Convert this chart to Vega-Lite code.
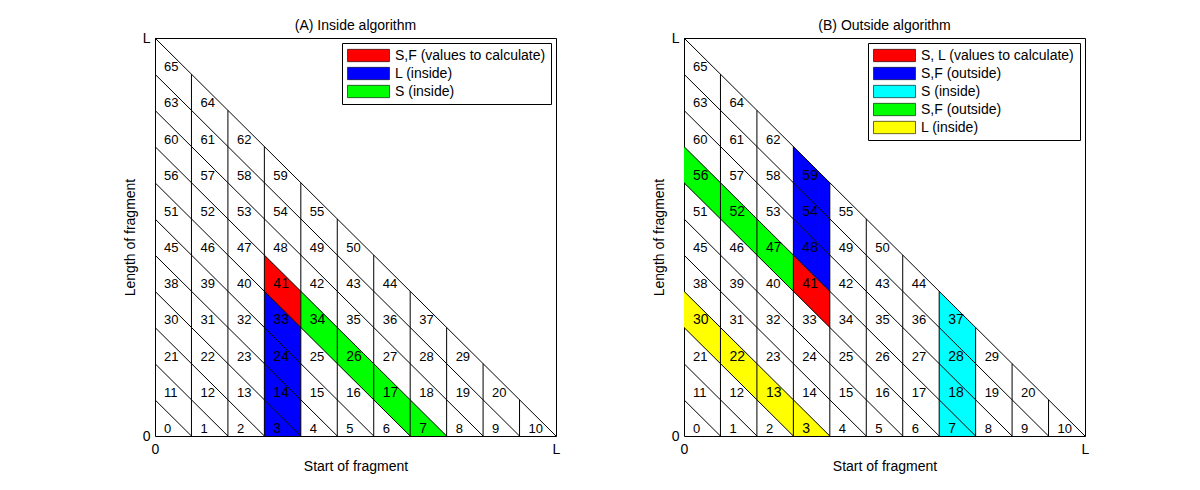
{
  "$schema": "https://vega.github.io/schema/vega-lite/v6.json",
  "background": "white",
  "padding": {"left": 122, "top": 18, "right": 5, "bottom": 5},
  "spacing": 90,
  "resolve": {"scale": {"color": "independent", "x": "independent", "y": "independent"}, "legend": {"color": "independent"}},
  "datasets": {
    "cells": [
      {"id":0,"k":0,"r":0},{"id":1,"k":1,"r":0},{"id":2,"k":2,"r":0},{"id":3,"k":3,"r":0},{"id":4,"k":4,"r":0},{"id":5,"k":5,"r":0},{"id":6,"k":6,"r":0},{"id":7,"k":7,"r":0},{"id":8,"k":8,"r":0},{"id":9,"k":9,"r":0},{"id":10,"k":10,"r":0},
      {"id":11,"k":0,"r":1},{"id":12,"k":1,"r":1},{"id":13,"k":2,"r":1},{"id":14,"k":3,"r":1},{"id":15,"k":4,"r":1},{"id":16,"k":5,"r":1},{"id":17,"k":6,"r":1},{"id":18,"k":7,"r":1},{"id":19,"k":8,"r":1},{"id":20,"k":9,"r":1},
      {"id":21,"k":0,"r":2},{"id":22,"k":1,"r":2},{"id":23,"k":2,"r":2},{"id":24,"k":3,"r":2},{"id":25,"k":4,"r":2},{"id":26,"k":5,"r":2},{"id":27,"k":6,"r":2},{"id":28,"k":7,"r":2},{"id":29,"k":8,"r":2},
      {"id":30,"k":0,"r":3},{"id":31,"k":1,"r":3},{"id":32,"k":2,"r":3},{"id":33,"k":3,"r":3},{"id":34,"k":4,"r":3},{"id":35,"k":5,"r":3},{"id":36,"k":6,"r":3},{"id":37,"k":7,"r":3},
      {"id":38,"k":0,"r":4},{"id":39,"k":1,"r":4},{"id":40,"k":2,"r":4},{"id":41,"k":3,"r":4},{"id":42,"k":4,"r":4},{"id":43,"k":5,"r":4},{"id":44,"k":6,"r":4},
      {"id":45,"k":0,"r":5},{"id":46,"k":1,"r":5},{"id":47,"k":2,"r":5},{"id":48,"k":3,"r":5},{"id":49,"k":4,"r":5},{"id":50,"k":5,"r":5},
      {"id":51,"k":0,"r":6},{"id":52,"k":1,"r":6},{"id":53,"k":2,"r":6},{"id":54,"k":3,"r":6},{"id":55,"k":4,"r":6},
      {"id":56,"k":0,"r":7},{"id":57,"k":1,"r":7},{"id":58,"k":2,"r":7},{"id":59,"k":3,"r":7},
      {"id":60,"k":0,"r":8},{"id":61,"k":1,"r":8},{"id":62,"k":2,"r":8},
      {"id":63,"k":0,"r":9},{"id":64,"k":1,"r":9},
      {"id":65,"k":0,"r":10}
    ],
    "grid": [
      {"x":1,"y":0,"x2":1,"y2":10},{"x":2,"y":0,"x2":2,"y2":9},{"x":3,"y":0,"x2":3,"y2":8},{"x":4,"y":0,"x2":4,"y2":7},{"x":5,"y":0,"x2":5,"y2":6},
      {"x":6,"y":0,"x2":6,"y2":5},{"x":7,"y":0,"x2":7,"y2":4},{"x":8,"y":0,"x2":8,"y2":3},{"x":9,"y":0,"x2":9,"y2":2},{"x":10,"y":0,"x2":10,"y2":1},
      {"x":0,"y":1,"x2":1,"y2":0},{"x":0,"y":2,"x2":2,"y2":0},{"x":0,"y":3,"x2":3,"y2":0},{"x":0,"y":4,"x2":4,"y2":0},{"x":0,"y":5,"x2":5,"y2":0},{"x":0,"y":6,"x2":6,"y2":0},
      {"x":0,"y":7,"x2":7,"y2":0},{"x":0,"y":8,"x2":8,"y2":0},{"x":0,"y":9,"x2":9,"y2":0},{"x":0,"y":10,"x2":10,"y2":0},{"x":0,"y":11,"x2":11,"y2":0}
    ],
    "polyA": [
      {"id":41,"cat":"S,F (values to calculate)","x":3,"lo":4,"hi":5},{"id":41,"cat":"S,F (values to calculate)","x":4,"lo":3,"hi":4},
      {"id":3,"cat":"L (inside)","x":3,"lo":0,"hi":1},{"id":3,"cat":"L (inside)","x":4,"lo":0,"hi":0},
      {"id":14,"cat":"L (inside)","x":3,"lo":1,"hi":2},{"id":14,"cat":"L (inside)","x":4,"lo":0,"hi":1},
      {"id":24,"cat":"L (inside)","x":3,"lo":2,"hi":3},{"id":24,"cat":"L (inside)","x":4,"lo":1,"hi":2},
      {"id":33,"cat":"L (inside)","x":3,"lo":3,"hi":4},{"id":33,"cat":"L (inside)","x":4,"lo":2,"hi":3},
      {"id":34,"cat":"S (inside)","x":4,"lo":3,"hi":4},{"id":34,"cat":"S (inside)","x":5,"lo":2,"hi":3},
      {"id":26,"cat":"S (inside)","x":5,"lo":2,"hi":3},{"id":26,"cat":"S (inside)","x":6,"lo":1,"hi":2},
      {"id":17,"cat":"S (inside)","x":6,"lo":1,"hi":2},{"id":17,"cat":"S (inside)","x":7,"lo":0,"hi":1},
      {"id":7,"cat":"S (inside)","x":7,"lo":0,"hi":1},{"id":7,"cat":"S (inside)","x":8,"lo":0,"hi":0}
    ],
    "polyB": [
      {"id":41,"cat":"S, L (values to calculate)","x":3,"lo":4,"hi":5},{"id":41,"cat":"S, L (values to calculate)","x":4,"lo":3,"hi":4},
      {"id":48,"cat":"S,F (outside) ","x":3,"lo":5,"hi":6},{"id":48,"cat":"S,F (outside) ","x":4,"lo":4,"hi":5},
      {"id":54,"cat":"S,F (outside) ","x":3,"lo":6,"hi":7},{"id":54,"cat":"S,F (outside) ","x":4,"lo":5,"hi":6},
      {"id":59,"cat":"S,F (outside) ","x":3,"lo":7,"hi":8},{"id":59,"cat":"S,F (outside) ","x":4,"lo":6,"hi":7},
      {"id":37,"cat":"S (inside)","x":7,"lo":3,"hi":4},{"id":37,"cat":"S (inside)","x":8,"lo":2,"hi":3},
      {"id":28,"cat":"S (inside)","x":7,"lo":2,"hi":3},{"id":28,"cat":"S (inside)","x":8,"lo":1,"hi":2},
      {"id":18,"cat":"S (inside)","x":7,"lo":1,"hi":2},{"id":18,"cat":"S (inside)","x":8,"lo":0,"hi":1},
      {"id":7,"cat":"S (inside)","x":7,"lo":0,"hi":1},{"id":7,"cat":"S (inside)","x":8,"lo":0,"hi":0},
      {"id":56,"cat":"S,F (outside)","x":0,"lo":7,"hi":8},{"id":56,"cat":"S,F (outside)","x":1,"lo":6,"hi":7},
      {"id":52,"cat":"S,F (outside)","x":1,"lo":6,"hi":7},{"id":52,"cat":"S,F (outside)","x":2,"lo":5,"hi":6},
      {"id":47,"cat":"S,F (outside)","x":2,"lo":5,"hi":6},{"id":47,"cat":"S,F (outside)","x":3,"lo":4,"hi":5},
      {"id":30,"cat":"L (inside)","x":0,"lo":3,"hi":4},{"id":30,"cat":"L (inside)","x":1,"lo":2,"hi":3},
      {"id":22,"cat":"L (inside)","x":1,"lo":2,"hi":3},{"id":22,"cat":"L (inside)","x":2,"lo":1,"hi":2},
      {"id":13,"cat":"L (inside)","x":2,"lo":1,"hi":2},{"id":13,"cat":"L (inside)","x":3,"lo":0,"hi":1},
      {"id":3,"cat":"L (inside)","x":3,"lo":0,"hi":1},{"id":3,"cat":"L (inside)","x":4,"lo":0,"hi":0}
    ]
  },
  "hconcat": [
    {
      "width": 401,
      "height": 398,
      "title": {"text": "(A) Inside algorithm"},
      "layer": [
        {
          "data": {"name": "polyA"},
          "mark": {"type": "area", "opacity": 1, "interpolate": "linear"},
          "encoding": {
            "x": {"field": "x", "type": "quantitative", "title": "Start of fragment", "scale": {"domain": [0, 11], "nice": false, "zero": false}, "axis": {"values": [0, 11], "labelExpr": "datum.value == 0 ? '0' : 'L'"}},
            "y": {"field": "hi", "type": "quantitative", "title": "Length of fragment", "stack": null, "scale": {"domain": [0, 11], "nice": false, "zero": false}, "axis": {"values": [0, 11], "labelExpr": "datum.value == 0 ? '0' : 'L'"}},
            "y2": {"field": "lo"},
            "detail": {"field": "id", "type": "nominal"},
            "color": {"field": "cat", "type": "nominal", "scale": {"domain": ["S,F (values to calculate)", "L (inside)", "S (inside)"], "range": ["#ff0000", "#0000ff", "#00ff00"]}}
          }
        },
        {
          "data": {"name": "grid"},
          "mark": {"type": "rule", "color": "black", "strokeWidth": 1},
          "encoding": {
            "x": {"field": "x", "type": "quantitative", "title": "Start of fragment"},
            "y": {"field": "y", "type": "quantitative", "title": "Length of fragment"},
            "x2": {"field": "x2"},
            "y2": {"field": "y2"}
          }
        },
        {
          "data": {"name": "cells"},
          "mark": {"type": "text", "align": "left", "baseline": "middle", "dx": 9, "dy": -7, "color": "black"},
          "encoding": {
            "x": {"field": "k", "type": "quantitative", "title": "Start of fragment"},
            "y": {"field": "r", "type": "quantitative", "title": "Length of fragment"},
            "text": {"field": "id", "type": "nominal"},
            "size": {"condition": {"test": "indexof([41,3,14,24,33,34,26,17,7], datum.id) >= 0", "value": 14}, "value": 13}
          }
        }
      ]
    },
    {
      "width": 401,
      "height": 398,
      "title": {"text": "(B) Outside algorithm"},
      "layer": [
        {
          "data": {"name": "polyB"},
          "mark": {"type": "area", "opacity": 1, "interpolate": "linear"},
          "encoding": {
            "x": {"field": "x", "type": "quantitative", "title": "Start of fragment", "scale": {"domain": [0, 11], "nice": false, "zero": false}, "axis": {"values": [0, 11], "labelExpr": "datum.value == 0 ? '0' : 'L'"}},
            "y": {"field": "hi", "type": "quantitative", "title": "Length of fragment", "stack": null, "scale": {"domain": [0, 11], "nice": false, "zero": false}, "axis": {"values": [0, 11], "labelExpr": "datum.value == 0 ? '0' : 'L'"}},
            "y2": {"field": "lo"},
            "detail": {"field": "id", "type": "nominal"},
            "color": {"field": "cat", "type": "nominal", "scale": {"domain": ["S, L (values to calculate)", "S,F (outside) ", "S (inside)", "S,F (outside)", "L (inside)"], "range": ["#ff0000", "#0000ff", "#00ffff", "#00ff00", "#ffff00"]}}
          }
        },
        {
          "data": {"name": "grid"},
          "mark": {"type": "rule", "color": "black", "strokeWidth": 1},
          "encoding": {
            "x": {"field": "x", "type": "quantitative", "title": "Start of fragment"},
            "y": {"field": "y", "type": "quantitative", "title": "Length of fragment"},
            "x2": {"field": "x2"},
            "y2": {"field": "y2"}
          }
        },
        {
          "data": {"name": "cells"},
          "mark": {"type": "text", "align": "left", "baseline": "middle", "dx": 9, "dy": -7, "color": "black"},
          "encoding": {
            "x": {"field": "k", "type": "quantitative", "title": "Start of fragment"},
            "y": {"field": "r", "type": "quantitative", "title": "Length of fragment"},
            "text": {"field": "id", "type": "nominal"},
            "size": {"condition": {"test": "indexof([41,48,54,59,37,28,18,7,56,52,47,30,22,13,3], datum.id) >= 0", "value": 14}, "value": 13}
          }
        }
      ]
    }
  ],
  "config": {
    "font": "Liberation Sans",
    "view": {"stroke": "black", "strokeWidth": 1},
    "title": {"fontSize": 14, "fontWeight": "normal", "color": "black", "offset": -2, "font": "Liberation Sans"},
    "text": {"font": "Liberation Sans"},
    "axis": {
      "grid": false, "ticks": false, "domain": false,
      "labelFlush": false,
      "labelFont": "Liberation Sans", "labelFontSize": 14, "labelColor": "black",
      "titleFont": "Liberation Sans", "titleFontSize": 14, "titleFontWeight": "normal", "titleColor": "black"
    },
    "axisX": {"labelPadding": 6, "titlePadding": 3},
    "axisY": {"labelPadding": 5, "titlePadding": 5},
    "legend": {
      "orient": "top-right", "offset": 5, "title": null,
      "strokeColor": "black", "fillColor": "white", "padding": 5, "cornerRadius": 0,
      "labelFont": "Liberation Sans", "labelFontSize": 14, "labelColor": "black",
      "symbolType": "M-3,-0.88H3V0.88H-3Z", "symbolSize": 196,
      "symbolOffset": 14, "labelOffset": 19,
      "symbolStrokeColor": "black", "symbolStrokeWidth": 0.6, "symbolOpacity": 1,
      "rowPadding": 3
    }
  }
}
